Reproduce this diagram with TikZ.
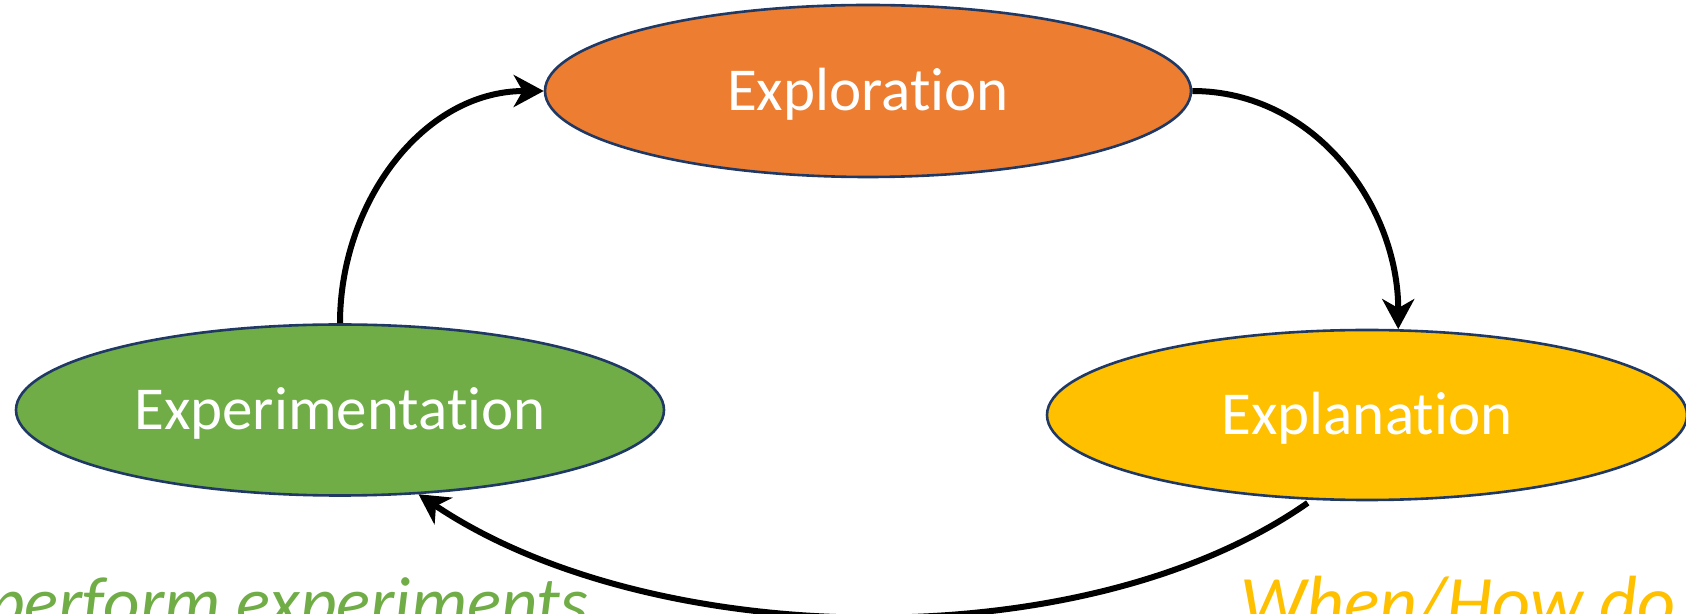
\documentclass[tikz,border=0pt]{standalone}
\usepackage{fontspec}
\setmainfont{Carlito}[Ligatures=NoCommon]
\usetikzlibrary{shapes.geometric,arrows.meta}
\definecolor{borange}{RGB}{237,125,49}
\definecolor{bgreen}{RGB}{112,173,71}
\definecolor{bgold}{RGB}{255,192,0}
\definecolor{bnavy}{RGB}{31,56,100}
\begin{document}
\begin{tikzpicture}[x=1pt,y=1pt,
  phase/.style={ellipse, draw=bnavy, line width=2.6pt, inner sep=0pt, text=white,
    font=\fontsize{61}{70}\selectfont, text height=39pt, text depth=0pt},
  flow/.style={-{Stealth[length=30pt,width=32pt,inset=9pt]}, line width=6pt, black},
  note/.style={anchor=base west, inner sep=0pt, font=\fontsize{71}{80}\selectfont\itshape}]
\useasboundingbox (0,0) rectangle (1686,613);
\clip (0,0) rectangle (1686,613);
\node[phase, fill=borange, minimum width=646pt, minimum height=172pt] (explo) at (868,522) {Exploration};
\node[phase, fill=bgreen, minimum width=648pt, minimum height=171pt] (exper) at (340,203) {Experimentation};
\node[phase, fill=bgold, minimum width=640pt, minimum height=170pt] (expl) at (1367,198) {Explanation};
\draw[flow] (exper.north) to[out=90,in=180] (explo.west);
\draw[flow] (explo.east) to[out=0,in=90] (expl.70);
\draw[flow, shorten <=5pt] (expl.237) to[out=215,in=-34,looseness=0.8] (exper.313);
\node[note, text=bgreen] (t1) at (-12,-13) {perform experiments};
\node[note, text=bgold, font=\fontsize{74}{80}\selectfont\itshape] (t2) at (1240,-14) {When/How do};
\end{tikzpicture}
\end{document}
